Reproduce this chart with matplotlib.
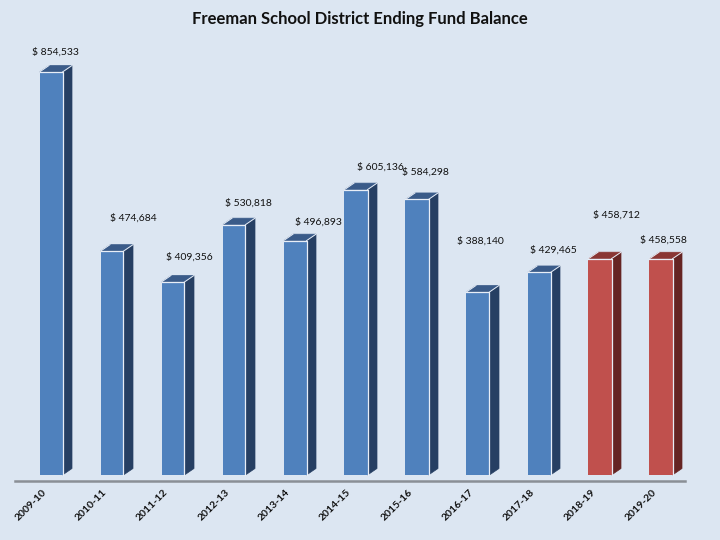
import matplotlib
matplotlib.use("Agg")
import matplotlib.pyplot as plt
from matplotlib.patches import Polygon

# ---- data ----
years = ["2009-10", "2010-11", "2011-12", "2012-13", "2013-14", "2014-15",
         "2015-16", "2016-17", "2017-18", "2018-19", "2019-20"]
balances = [854533, 474684, 409356, 530818, 496893, 605136,
            584298, 388140, 429465, 458712, 458558]
projected = [False] * 9 + [True, True]
value_labels = ["$ 854,533", "$ 474,684", "$ 409,356", "$ 530,818", "$ 496,893",
                "$ 605,136", "$ 584,298", "$ 388,140", "$ 429,465", "$ 458,712",
                "$ 458,558"]

# ---- layout (label offsets from bar top, in pixels) ----
label_dx = [4, 21, 16, 14, 23, 24, 8, 2, 14, 16, 2]
label_dy = [20, 33, 25, 22, 19, 23, 27, 51, 22, 44, 19]

BG = "#dce6f2"
W, H = 720, 540
x0_px, step_px = 51, 61
base_px, top_px, top_val = 475, 72, 854533
scale = (base_px - top_px) / top_val   # px per unit

fig = plt.figure(figsize=(7.2, 5.4), dpi=100, facecolor=BG)
ax = fig.add_axes([0, 0, 1, 1])
ax.set_facecolor(BG)
ax.set_xlim((0 - x0_px) / step_px, (W - x0_px) / step_px)
ax.set_ylim((base_px - H) / scale, base_px / scale)
ax.axis("off")

bw = 23 / step_px          # front face width in x units
ddx = 9.5 / step_px        # depth in x units
ddy = 6.5 / scale          # depth in value units

colors_blue = ("#4f81bd", "#263f63", "#3a5b89")
colors_red = ("#c0504d", "#652423", "#8a3634")

# floor line
ax.plot([(15 - x0_px) / step_px, (685 - x0_px) / step_px],
        [(base_px - 481) / scale] * 2, color="#8a8f96", lw=1.8, zorder=1)

for i, (v, proj) in enumerate(zip(balances, projected)):
    front, side, top = colors_red if proj else colors_blue
    xl, xr = i - bw / 2, i + bw / 2
    # side
    ax.add_patch(Polygon([(xr, 0), (xr + ddx, ddy), (xr + ddx, v + ddy), (xr, v)],
                         closed=True, fc=side, ec=side, lw=0.5, zorder=2))
    # top
    ax.add_patch(Polygon([(xl, v), (xr, v), (xr + ddx, v + ddy), (xl + ddx, v + ddy)],
                         closed=True, fc=top, ec=top, lw=0.5, zorder=2))
    # front
    ax.add_patch(Polygon([(xl, 0), (xr, 0), (xr, v), (xl, v)],
                         closed=True, fc=front, ec="none", zorder=3))
    # highlight edges
    ax.plot([xl, xr, xr], [v, v, 0], color="#e8eef7", lw=0.9, zorder=4)
    ax.plot([xr, xr + ddx], [v, v + ddy], color="#e8eef7", lw=0.7, zorder=4)
    ax.plot([xl, xl + ddx], [v, v + ddy], color="#e8eef7", lw=0.7, zorder=4)

    ax.annotate(value_labels[i], xy=(i, v), xytext=(label_dx[i], label_dy[i]),
                textcoords="offset pixels", ha="center", va="center",
                fontsize=7.5, family="Lato", color="#111111", zorder=5)

    ax.annotate(years[i], xy=(i, 0), xytext=(-3, -13), textcoords="offset pixels",
                ha="right", va="top", rotation=45, fontsize=7.5, family="Lato",
                fontweight="bold", color="#111111", zorder=5)

fig.text(0.5, 1 - 19 / H, "Freeman School District Ending Fund Balance",
         ha="center", va="center", fontsize=12, fontweight="bold",
         family="Lato", color="#111111")

fig.savefig("out.png", dpi=100, facecolor=BG)
